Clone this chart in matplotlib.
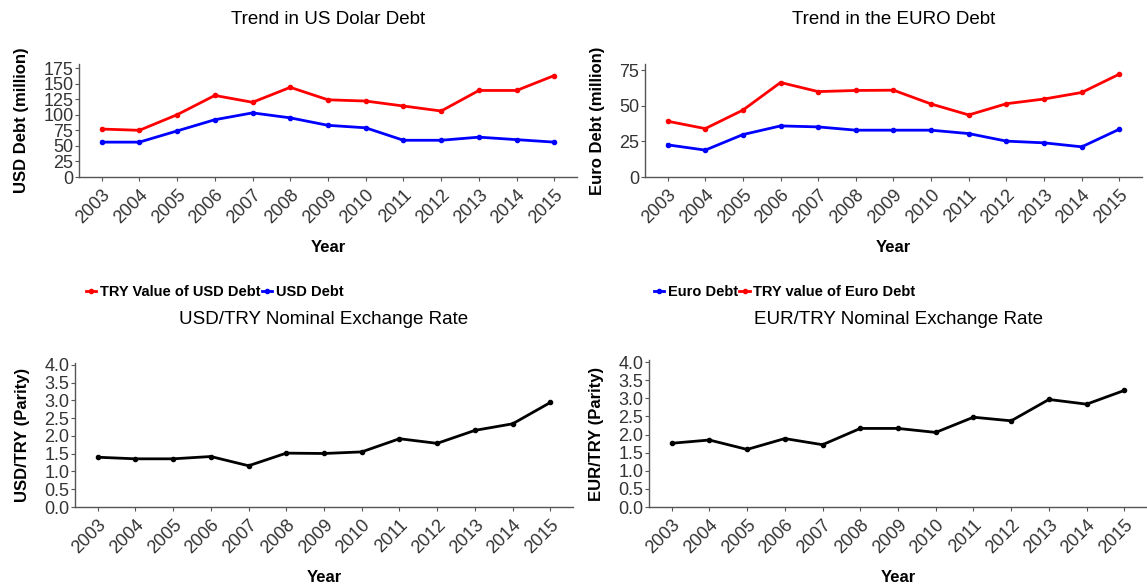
import matplotlib.pyplot as plt
from matplotlib.lines import Line2D

plt.rcParams['font.family'] = ['Liberation Sans', 'DejaVu Sans']

years = list(range(2003, 2016))

# top left: US dollar debt
try_value_usd = [77, 75, 100, 131, 120, 144, 124, 122, 114, 106, 139, 139, 163]
usd_debt = [56, 56, 74, 92, 103, 95, 83, 79, 59, 59, 64, 60, 56]

# top right: euro debt
euro_debt = [22.6, 18.9, 29.8, 35.9, 35.2, 32.9, 32.9, 32.9, 30.5, 25.2, 24.0, 21.2, 33.6]
try_value_euro = [39.2, 34.0, 47.0, 66.4, 60.0, 60.8, 61.0, 51.3, 43.6, 51.5, 54.8, 59.4, 72.3]

# bottom: exchange rates
usd_try = [1.40, 1.355, 1.355, 1.42, 1.16, 1.515, 1.505, 1.55, 1.92, 1.79, 2.155, 2.34, 2.94]
eur_try = [1.76, 1.85, 1.59, 1.89, 1.72, 2.17, 2.17, 2.06, 2.48, 2.38, 2.97, 2.84, 3.22]

usd_ticks = [0, 25, 50, 75, 100, 125, 150, 175]
euro_ticks = [0, 25, 50, 75]
rate_ticks = [0.0, 0.5, 1.0, 1.5, 2.0, 2.5, 3.0, 3.5, 4.0]

RED = '#ff0000'
BLUE = '#0000ff'
AX_GREY = '#555555'
TXT_GREY = '#333333'

W, H = 1147, 585
fig = plt.figure(figsize=(W / 100, H / 100), dpi=100)


def px_axes(left, right, top, bottom):
    return fig.add_axes([left / W, 1 - bottom / H, (right - left) / W, (bottom - top) / H])


def style(ax, ylim, yticks, ylabel, fmt):
    ax.set_xlim(2002.4, 2015.6)
    ax.set_ylim(*ylim)
    ax.set_xticks(years)
    ax.set_xticklabels([str(y) for y in years], rotation=45, ha='right', va='top',
                       rotation_mode='anchor', fontsize=13, color=TXT_GREY)
    ax.set_yticks(yticks)
    ax.set_yticklabels([fmt.format(v) for v in yticks], fontsize=13, color=TXT_GREY)
    for s in ['top', 'right']:
        ax.spines[s].set_visible(False)
    for s in ['left', 'bottom']:
        ax.spines[s].set_color(AX_GREY)
        ax.spines[s].set_linewidth(1.0)
    ax.tick_params(axis='both', colors=AX_GREY, length=3, width=0.8, pad=1)
    ax.tick_params(axis='x', pad=4)
    for lbl in ax.get_xticklabels() + ax.get_yticklabels():
        lbl.set_color(TXT_GREY)
    ax.set_ylabel(ylabel, fontsize=12, fontweight='bold', labelpad=10)
    ax.set_xlabel('Year', fontsize=12, fontweight='bold', labelpad=9)


def draw(ax, y, color):
    ax.plot(years, y, color=color, lw=2.0, marker='o', markersize=3, zorder=3)


# top left
ax1 = px_axes(79, 577, 64, 177)
draw(ax1, try_value_usd, RED)
draw(ax1, usd_debt, BLUE)
style(ax1, (0, 181.5), usd_ticks, 'USD Debt (million)', '{:d}')
ax1.set_title('Trend in US Dolar Debt', fontsize=13.5, pad=29)

# top right
ax2 = px_axes(645, 1142, 64, 177)
draw(ax2, euro_debt, BLUE)
draw(ax2, try_value_euro, RED)
style(ax2, (0, 79.4), euro_ticks, 'Euro Debt (million)', '{:d}')
ax2.set_title('Trend in the EURO Debt', fontsize=13.5, pad=29)

# bottom left
ax3 = px_axes(75, 573, 363, 507)
draw(ax3, usd_try, 'black')
style(ax3, (0, 4.05), rate_ticks, 'USD/TRY (Parity)', '{:.1f}')
ax3.set_title('USD/TRY Nominal Exchange Rate', fontsize=13.5, pad=28)

# bottom right
ax4 = px_axes(649, 1147, 360, 507)
draw(ax4, eur_try, 'black')
style(ax4, (0, 4.06), rate_ticks, 'EUR/TRY (Parity)', '{:.1f}')
ax4.set_title('EUR/TRY Nominal Exchange Rate', fontsize=13.5, pad=26)


def key(color):
    return Line2D([0], [0], color=color, lw=2.0, marker='o', markersize=3)


leg_kw = dict(ncol=2, frameon=False, handlelength=0.7, handletextpad=0.25,
              columnspacing=0.1, borderaxespad=0, borderpad=0,
              prop={'weight': 'bold', 'size': 10.5})
fig.legend([key(RED), key(BLUE)], ['TRY Value of USD Debt', 'USD Debt'],
           loc='center left', bbox_to_anchor=(86 / W, 1 - 292 / H), **leg_kw)
fig.legend([key(BLUE), key(RED)], ['Euro Debt', 'TRY value of Euro Debt'],
           loc='center left', bbox_to_anchor=(654 / W, 1 - 292 / H), **leg_kw)

fig.savefig('out.png', dpi=100)
